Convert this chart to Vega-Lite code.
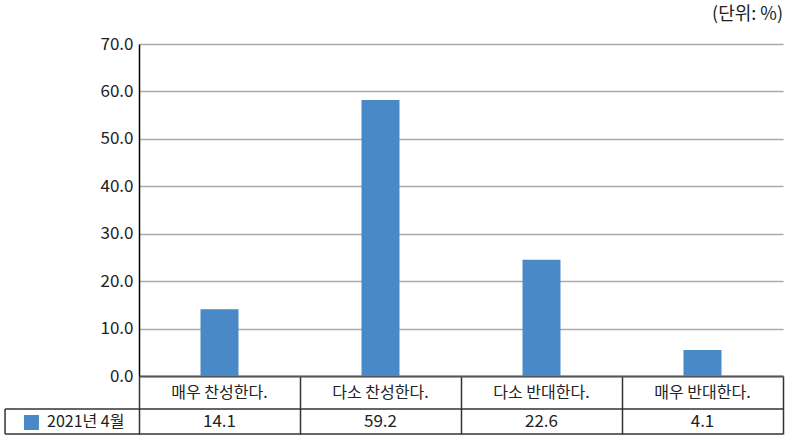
{
  "$schema": "https://vega.github.io/schema/vega-lite/v6.json",
  "width": 644,
  "height": 332,
  "autosize": {"type": "none"},
  "padding": {"left": 139, "top": 44, "right": 8, "bottom": 60},
  "title": {"text": "(단위: %)", "anchor": "end", "frame": "group", "orient": "top", "font": "Noto Sans CJK KR", "fontSize": 18, "fontWeight": "normal", "color": "#222222", "offset": 11},
  "config": {"view": {"stroke": null}, "font": "Noto Sans CJK KR"},
  "layer": [
    {
      "data": {"values": [
        {"category": "매우 찬성한다.", "bar": 14.1, "value": "14.1"},
        {"category": "다소 찬성한다.", "bar": 58.2, "value": "59.2"},
        {"category": "다소 반대한다.", "bar": 24.5, "value": "22.6"},
        {"category": "매우 반대한다.", "bar": 5.5, "value": "4.1"}
      ], "name": "main"},
      "transform": [{"window": [{"op": "row_number", "as": "idx"}]}],
      "layer": [
        {
          "mark": {"type": "bar", "width": 38, "color": "#4a89c8"},
          "encoding": {
            "x": {"field": "idx", "type": "quantitative", "scale": {"domain": [0.5, 4.5], "nice": false, "zero": false, "padding": 0},
              "axis": {"values": [0.5, 1.5, 2.5, 3.5, 4.5], "labels": false, "title": null, "grid": false, "domainColor": "#555555", "domainWidth": 2, "tickColor": "#333333", "tickWidth": 1.5, "tickSize": 58}},
            "y": {"field": "bar", "type": "quantitative", "scale": {"domain": [0, 70], "nice": false},
              "axis": {"values": [0, 10, 20, 30, 40, 50, 60, 70], "format": ".1f", "title": null, "grid": true, "gridColor": "#aaaaaa", "gridWidth": 1.5, "domainColor": "#000000", "domainWidth": 1.5, "ticks": false, "labelPadding": 6, "labelFont": "Noto Sans CJK KR", "labelFontSize": 17, "labelColor": "#222222"}}
          }
        },
        {
          "mark": {"type": "text", "font": "Noto Sans CJK KR", "fontSize": 16, "color": "#222222", "baseline": "middle"},
          "encoding": {
            "x": {"field": "idx", "type": "quantitative"},
            "y": {"datum": -3.48},
            "text": {"field": "category"}
          }
        },
        {
          "mark": {"type": "text", "font": "Noto Sans CJK KR", "fontSize": 17, "color": "#222222", "baseline": "middle"},
          "encoding": {
            "x": {"field": "idx", "type": "quantitative"},
            "y": {"datum": -9.6},
            "text": {"field": "value"}
          }
        }
      ]
    },
    {
      "data": {"values": [{"series": "2021년 4월"}]},
      "layer": [
        {
          "mark": {"type": "rule", "color": "#333333", "strokeWidth": 1.5},
          "encoding": {"x": {"datum": -0.332}, "x2": {"datum": 4.5}, "y": {"datum": -6.96}}
        },
        {
          "mark": {"type": "rule", "color": "#333333", "strokeWidth": 1.5},
          "encoding": {"x": {"datum": -0.332}, "x2": {"datum": 4.5}, "y": {"datum": -12.23}}
        },
        {
          "mark": {"type": "rule", "color": "#333333", "strokeWidth": 1.5},
          "encoding": {"x": {"datum": -0.332}, "y": {"datum": -6.96}, "y2": {"datum": -12.23}}
        },
        {
          "mark": {"type": "point", "shape": "square", "filled": true, "size": 225, "color": "#4a89c8", "opacity": 1},
          "encoding": {"x": {"datum": -0.168}, "y": {"datum": -9.8}}
        },
        {
          "mark": {"type": "text", "font": "Noto Sans CJK KR", "fontSize": 16, "color": "#222222", "align": "left", "baseline": "middle"},
          "encoding": {"x": {"datum": -0.0714}, "y": {"datum": -9.6}, "text": {"field": "series"}}
        }
      ]
    }
  ]
}
